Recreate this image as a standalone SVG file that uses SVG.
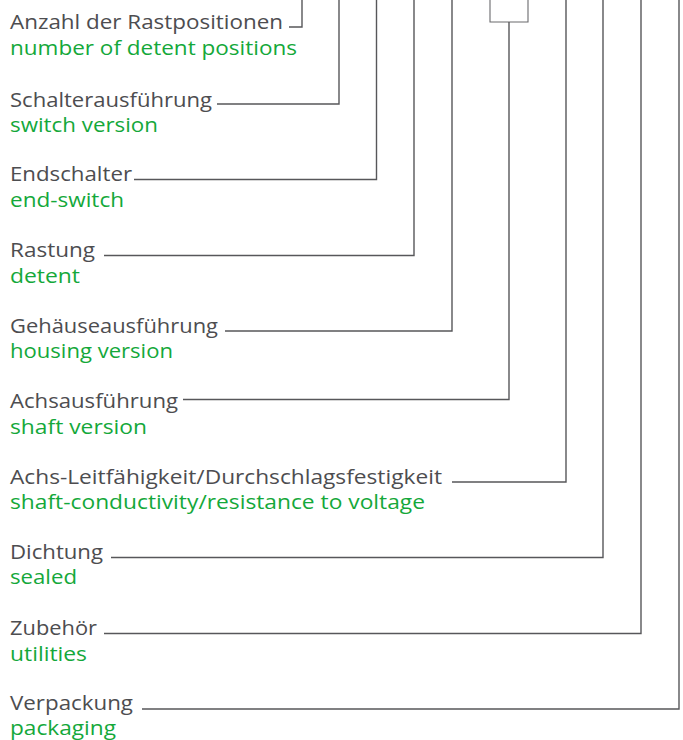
<svg xmlns="http://www.w3.org/2000/svg" width="683" height="740" viewBox="0 0 683 740">
<style>
.de{font-family:"Open Sans","Liberation Sans",sans-serif;font-size:20px;fill:#4d4d50}
.en{font-family:"Open Sans","Liberation Sans",sans-serif;font-size:20px;fill:#14a83a}
.ln{fill:none;stroke:#57575a;stroke-width:1.4}
.lt{fill:none;stroke:#6a6a6d;stroke-width:1.1}
</style>
<rect width="683" height="740" fill="#fff"/>
<g id="connectors">
<polyline class="ln" points="289,27 302,27 302,0"/>
<polyline class="ln" points="217,104 339,104 339,0"/>
<polyline class="ln" points="134,179.5 376.5,179.5 376.5,0"/>
<polyline class="ln" points="104,255.5 414,255.5 414,0"/>
<polyline class="ln" points="225,331 452,331 452,0"/>
<polyline class="lt" points="490,0 490,22 528,22 528,0"/>
<polyline class="ln" points="183,399.5 509,399.5 509,22"/>
<polyline class="ln" points="452,482 566,482 566,0"/>
<polyline class="ln" points="111,557.5 603,557.5 603,0"/>
<polyline class="ln" points="104,633.5 641,633.5 641,0"/>
<polyline class="ln" points="142,709 679,709 679,0"/>
</g>
<g id="n1"><text class="de" x="10" y="29" textLength="273" lengthAdjust="spacingAndGlyphs">Anzahl der Rastpositionen</text><text class="en" x="10" y="55" textLength="287" lengthAdjust="spacingAndGlyphs">number of detent positions</text></g>
<g id="n2"><text class="de" x="10" y="106.5" textLength="202" lengthAdjust="spacingAndGlyphs">Schalterausführung</text><text class="en" x="10" y="132" textLength="148" lengthAdjust="spacingAndGlyphs">switch version</text></g>
<g id="n3"><text class="de" x="10" y="181" textLength="122" lengthAdjust="spacingAndGlyphs">Endschalter</text><text class="en" x="10" y="206.5" textLength="114" lengthAdjust="spacingAndGlyphs">end-switch</text></g>
<g id="n4"><text class="de" x="10" y="257" textLength="85" lengthAdjust="spacingAndGlyphs">Rastung</text><text class="en" x="10" y="282.5" textLength="70" lengthAdjust="spacingAndGlyphs">detent</text></g>
<g id="n5"><text class="de" x="10" y="332.5" textLength="208" lengthAdjust="spacingAndGlyphs">Gehäuseausführung</text><text class="en" x="10" y="358" textLength="163" lengthAdjust="spacingAndGlyphs">housing version</text></g>
<g id="n6"><text class="de" x="10" y="408" textLength="168" lengthAdjust="spacingAndGlyphs">Achsausführung</text><text class="en" x="10" y="433.5" textLength="137" lengthAdjust="spacingAndGlyphs">shaft version</text></g>
<g id="n7"><text class="de" x="10" y="483.5" textLength="432" lengthAdjust="spacingAndGlyphs">Achs-Leitfähigkeit/Durchschlagsfestigkeit</text><text class="en" x="10" y="509" textLength="415" lengthAdjust="spacingAndGlyphs">shaft-conductivity/resistance to voltage</text></g>
<g id="n8"><text class="de" x="10" y="558.5" textLength="93" lengthAdjust="spacingAndGlyphs">Dichtung</text><text class="en" x="10" y="584" textLength="67" lengthAdjust="spacingAndGlyphs">sealed</text></g>
<g id="n9"><text class="de" x="10" y="635" textLength="87" lengthAdjust="spacingAndGlyphs">Zubehör</text><text class="en" x="10" y="660.5" textLength="77" lengthAdjust="spacingAndGlyphs">utilities</text></g>
<g id="n10"><text class="de" x="10" y="710" textLength="123" lengthAdjust="spacingAndGlyphs">Verpackung</text><text class="en" x="10" y="735" textLength="106" lengthAdjust="spacingAndGlyphs">packaging</text></g>
</svg>
